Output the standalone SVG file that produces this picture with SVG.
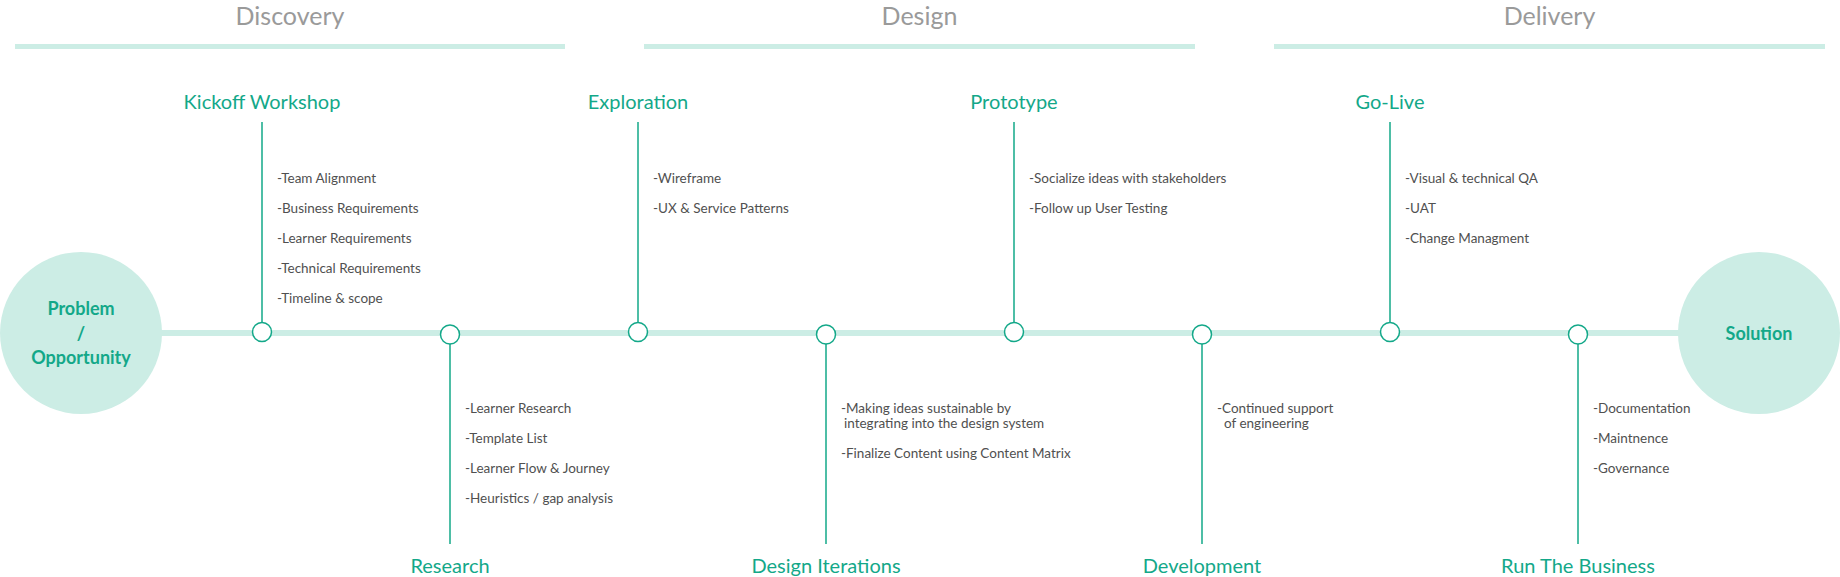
<svg xmlns="http://www.w3.org/2000/svg" width="1840" height="577" viewBox="0 0 1840 577">
<style>
.phase{font-family:Lato,"Open Sans","DejaVu Sans",sans-serif;font-size:25px;fill:#9a9a9a;text-anchor:middle}
.pbar{fill:#ccede5}
.lbl{font-family:Lato,"Open Sans","DejaVu Sans",sans-serif;font-size:20px;fill:#13a889;text-anchor:middle}
.item{font-family:Lato,"Open Sans","DejaVu Sans",sans-serif;font-size:13.5px;fill:#505050}
.end{fill:#ccede5}
.endt{font-family:Lato,"Open Sans","DejaVu Sans",sans-serif;font-size:18px;font-weight:bold;fill:#13a889;text-anchor:middle}
.stem{stroke:#13a889;stroke-width:1.5;fill:none}
.dot{fill:#ffffff;stroke:#13a889;stroke-width:1.5}
</style>
<rect width="1840" height="577" fill="#ffffff"/>
<g id="phases">
<text class="phase" x="290" y="25">Discovery</text>
<rect class="pbar" x="15" y="44" width="550" height="5"/>
<text class="phase" x="919.5" y="25">Design</text>
<rect class="pbar" x="644" y="44" width="551" height="5"/>
<text class="phase" x="1549.5" y="25">Delivery</text>
<rect class="pbar" x="1274" y="44" width="551" height="5"/>
</g>
<g id="connectors">
<rect x="160" y="330" width="1520" height="6" fill="#ccede5"/>
<line class="stem" x1="262" y1="122" x2="262" y2="322.5"/>
<line class="stem" x1="450" y1="344" x2="450" y2="544"/>
<line class="stem" x1="638" y1="122" x2="638" y2="322.5"/>
<line class="stem" x1="826" y1="344" x2="826" y2="544"/>
<line class="stem" x1="1014" y1="122" x2="1014" y2="322.5"/>
<line class="stem" x1="1202" y1="344" x2="1202" y2="544"/>
<line class="stem" x1="1390" y1="122" x2="1390" y2="322.5"/>
<line class="stem" x1="1578" y1="344" x2="1578" y2="544"/>
</g>
<g id="problem">
<circle class="end" cx="81" cy="333" r="81"/>
<text class="endt" x="81" y="315">Problem</text>
<text class="endt" x="81" y="340">/</text>
<text class="endt" x="81" y="364">Opportunity</text>
</g>
<g id="solution">
<circle class="end" cx="1759" cy="333" r="81"/>
<text class="endt" x="1759" y="340">Solution</text>
</g>
<g id="kickoff">
<circle class="dot" cx="262" cy="332" r="9.5"/>
<text class="lbl" x="262" y="109">Kickoff Workshop</text>
<text class="item" x="277" y="183">-Team Alignment</text>
<text class="item" x="277" y="213">-Business Requirements</text>
<text class="item" x="277" y="243">-Learner Requirements</text>
<text class="item" x="277" y="273">-Technical Requirements</text>
<text class="item" x="277" y="303">-Timeline &amp; scope</text>
</g>
<g id="research">
<circle class="dot" cx="450" cy="334.5" r="9.5"/>
<text class="lbl" x="450" y="573">Research</text>
<text class="item" x="465" y="413">-Learner Research</text>
<text class="item" x="465" y="443">-Template List</text>
<text class="item" x="465" y="473">-Learner Flow &amp; Journey</text>
<text class="item" x="465" y="503">-Heuristics / gap analysis</text>
</g>
<g id="exploration">
<circle class="dot" cx="638" cy="332" r="9.5"/>
<text class="lbl" x="638" y="109">Exploration</text>
<text class="item" x="653" y="183">-Wireframe</text>
<text class="item" x="653" y="213">-UX &amp; Service Patterns</text>
</g>
<g id="design-iterations">
<circle class="dot" cx="826" cy="334.5" r="9.5"/>
<text class="lbl" x="826" y="573">Design Iterations</text>
<text class="item" x="841" y="413">-Making ideas sustainable by</text>
<text class="item" x="844" y="428">integrating into the design system</text>
<text class="item" x="841" y="458">-Finalize Content using Content Matrix</text>
</g>
<g id="prototype">
<circle class="dot" cx="1014" cy="332" r="9.5"/>
<text class="lbl" x="1014" y="109">Prototype</text>
<text class="item" x="1029" y="183">-Socialize ideas with stakeholders</text>
<text class="item" x="1029" y="213">-Follow up User Testing</text>
</g>
<g id="development">
<circle class="dot" cx="1202" cy="334.5" r="9.5"/>
<text class="lbl" x="1202" y="573">Development</text>
<text class="item" x="1217" y="413">-Continued support</text>
<text class="item" x="1224" y="428">of engineering</text>
</g>
<g id="go-live">
<circle class="dot" cx="1390" cy="332" r="9.5"/>
<text class="lbl" x="1390" y="109">Go-Live</text>
<text class="item" x="1405" y="183">-Visual &amp; technical QA</text>
<text class="item" x="1405" y="213">-UAT</text>
<text class="item" x="1405" y="243">-Change Managment</text>
</g>
<g id="run-the-business">
<circle class="dot" cx="1578" cy="334.5" r="9.5"/>
<text class="lbl" x="1578" y="573">Run The Business</text>
<text class="item" x="1593" y="413">-Documentation</text>
<text class="item" x="1593" y="443">-Maintnence</text>
<text class="item" x="1593" y="473">-Governance</text>
</g>
</svg>
